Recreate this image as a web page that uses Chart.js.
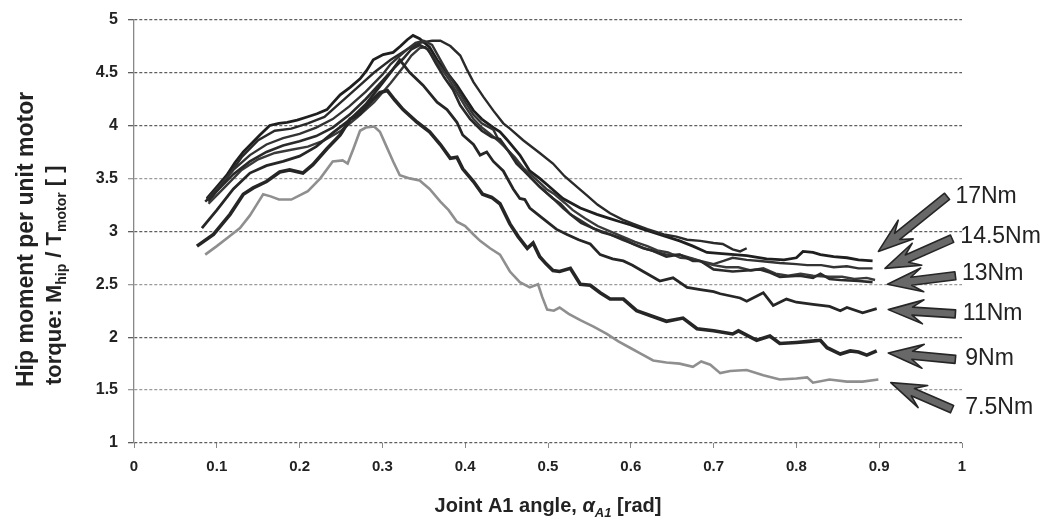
<!DOCTYPE html>
<html>
<head>
<meta charset="utf-8">
<script src="https://cdn.jsdelivr.net/npm/chart.js@4.4.1/dist/chart.umd.min.js"></script>
<style>
  html, body { margin: 0; padding: 0; background: #fff; }
  #wrap { width: 1050px; height: 527px; }
</style>
</head>
<body>
<div id="wrap"><canvas id="hipChart"></canvas></div>
<script>
// axis ticks
const xTicks = [0, 0.1, 0.2, 0.3, 0.4, 0.5, 0.6, 0.7, 0.8, 0.9, 1];
const yTicks = [1, 1.5, 2, 2.5, 3, 3.5, 4, 4.5, 5];

// motor torque labels (arrows on the right)
const torqueLabels = ['17Nm', '14.5Nm', '13Nm', '11Nm', '9Nm', '7.5Nm'];

// curves: [joint angle rad, Mhip/Tmotor]
const t75 = [[0.086,2.78],[0.10,2.86],[0.115,2.95],[0.128,3.03],[0.14,3.15],[0.148,3.25],[0.156,3.35],[0.165,3.33],[0.175,3.30],[0.19,3.30],[0.20,3.34],[0.21,3.38],[0.225,3.50],[0.24,3.66],[0.252,3.67],[0.258,3.64],[0.265,3.78],[0.273,3.95],[0.28,3.98],[0.29,3.99],[0.297,3.94],[0.305,3.80],[0.313,3.66],[0.321,3.53],[0.333,3.50],[0.345,3.48],[0.357,3.40],[0.37,3.28],[0.38,3.20],[0.39,3.09],[0.40,3.05],[0.41,2.97],[0.418,2.91],[0.43,2.84],[0.442,2.78],[0.454,2.62],[0.466,2.52],[0.478,2.47],[0.488,2.50],[0.493,2.38],[0.499,2.26],[0.507,2.25],[0.514,2.28],[0.525,2.22],[0.539,2.16],[0.555,2.10],[0.571,2.03],[0.585,1.96],[0.599,1.90],[0.613,1.84],[0.627,1.78],[0.643,1.76],[0.659,1.75],[0.675,1.72],[0.685,1.77],[0.696,1.74],[0.708,1.66],[0.72,1.68],[0.74,1.69],[0.76,1.64],[0.78,1.60],[0.80,1.61],[0.813,1.62],[0.82,1.57],[0.84,1.60],[0.861,1.58],[0.88,1.58],[0.899,1.60]];

const t9 = [[0.076,2.86],[0.096,2.97],[0.116,3.16],[0.132,3.35],[0.144,3.41],[0.16,3.47],[0.176,3.56],[0.188,3.58],[0.204,3.55],[0.216,3.63],[0.233,3.78],[0.249,3.91],[0.261,4.06],[0.273,4.11],[0.285,4.22],[0.297,4.31],[0.306,4.33],[0.315,4.24],[0.325,4.15],[0.342,4.03],[0.357,3.94],[0.37,3.82],[0.382,3.69],[0.39,3.70],[0.397,3.59],[0.41,3.47],[0.421,3.35],[0.432,3.32],[0.442,3.26],[0.454,3.07],[0.464,2.95],[0.475,2.84],[0.482,2.89],[0.49,2.76],[0.498,2.69],[0.506,2.63],[0.514,2.62],[0.527,2.65],[0.539,2.50],[0.551,2.49],[0.563,2.42],[0.575,2.36],[0.591,2.36],[0.607,2.25],[0.625,2.20],[0.643,2.15],[0.663,2.18],[0.68,2.08],[0.70,2.06],[0.723,2.03],[0.73,2.06],[0.752,1.97],[0.768,2.01],[0.78,1.94],[0.80,1.95],[0.815,1.96],[0.829,1.97],[0.837,1.90],[0.853,1.84],[0.865,1.87],[0.875,1.86],[0.885,1.83],[0.897,1.87]];

const t11 = [[0.082,3.03],[0.10,3.20],[0.12,3.40],[0.14,3.55],[0.16,3.62],[0.18,3.66],[0.20,3.71],[0.22,3.80],[0.24,3.93],[0.26,4.05],[0.28,4.20],[0.29,4.30],[0.30,4.40],[0.31,4.50],[0.321,4.62],[0.333,4.50],[0.349,4.38],[0.366,4.22],[0.378,4.15],[0.39,4.03],[0.397,3.91],[0.41,3.82],[0.418,3.72],[0.426,3.75],[0.434,3.66],[0.446,3.57],[0.458,3.40],[0.466,3.31],[0.472,3.30],[0.478,3.22],[0.494,3.12],[0.51,3.02],[0.523,2.97],[0.537,2.92],[0.551,2.88],[0.563,2.78],[0.578,2.74],[0.591,2.72],[0.602,2.68],[0.615,2.62],[0.635,2.53],[0.651,2.56],[0.668,2.47],[0.684,2.45],[0.70,2.43],[0.708,2.41],[0.732,2.37],[0.74,2.34],[0.76,2.42],[0.772,2.30],[0.788,2.36],[0.80,2.33],[0.82,2.31],[0.84,2.29],[0.853,2.25],[0.861,2.28],[0.88,2.23],[0.897,2.27]];

const t13a = [[0.086,3.28],[0.10,3.38],[0.12,3.54],[0.14,3.66],[0.16,3.75],[0.18,3.81],[0.20,3.85],[0.22,3.90],[0.24,3.98],[0.26,4.10],[0.28,4.25],[0.30,4.42],[0.315,4.55],[0.325,4.63],[0.335,4.72],[0.345,4.76],[0.355,4.72],[0.365,4.58],[0.375,4.45],[0.385,4.34],[0.394,4.19],[0.406,4.06],[0.42,3.95],[0.432,3.89],[0.442,3.87],[0.452,3.76],[0.462,3.64],[0.475,3.54],[0.49,3.42],[0.506,3.31],[0.515,3.26],[0.527,3.16],[0.54,3.08],[0.554,3.03],[0.565,2.99],[0.575,2.97],[0.59,2.93],[0.603,2.88],[0.615,2.84],[0.625,2.82],[0.643,2.76],[0.659,2.78],[0.675,2.72],[0.684,2.72],[0.70,2.64],[0.712,2.63],[0.723,2.62],[0.74,2.63],[0.756,2.64],[0.768,2.61],[0.78,2.57],[0.804,2.58],[0.82,2.56],[0.829,2.60],[0.84,2.55],[0.853,2.54],[0.875,2.53],[0.892,2.52]];

const t13b = [[0.09,3.26],[0.11,3.42],[0.13,3.58],[0.15,3.68],[0.17,3.74],[0.19,3.77],[0.21,3.80],[0.23,3.86],[0.25,3.95],[0.27,4.08],[0.29,4.22],[0.31,4.40],[0.325,4.55],[0.335,4.66],[0.345,4.73],[0.352,4.74],[0.36,4.66],[0.37,4.55],[0.38,4.44],[0.39,4.31],[0.40,4.18],[0.41,4.06],[0.42,3.98],[0.43,3.92],[0.442,3.84],[0.45,3.78],[0.46,3.70],[0.47,3.60],[0.48,3.53],[0.49,3.46],[0.498,3.40],[0.508,3.35],[0.52,3.27],[0.53,3.20],[0.545,3.12],[0.56,3.05],[0.575,3.00],[0.59,2.95],[0.605,2.90],[0.62,2.86],[0.632,2.82],[0.645,2.80],[0.66,2.75],[0.675,2.74],[0.69,2.70],[0.70,2.68],[0.715,2.66],[0.73,2.66],[0.745,2.63],[0.76,2.65],[0.775,2.60],[0.79,2.58],[0.805,2.60],[0.82,2.58],[0.84,2.57],[0.855,2.57],[0.87,2.55],[0.885,2.56],[0.895,2.54]];

const t145 = [[0.088,3.30],[0.10,3.40],[0.12,3.58],[0.14,3.72],[0.16,3.82],[0.18,3.88],[0.20,3.92],[0.22,3.98],[0.24,4.06],[0.26,4.18],[0.28,4.32],[0.30,4.48],[0.31,4.58],[0.32,4.65],[0.33,4.72],[0.34,4.78],[0.35,4.80],[0.36,4.76],[0.37,4.62],[0.38,4.48],[0.39,4.35],[0.40,4.22],[0.41,4.10],[0.42,4.02],[0.434,3.96],[0.44,3.87],[0.454,3.74],[0.466,3.62],[0.475,3.54],[0.49,3.42],[0.506,3.31],[0.518,3.22],[0.527,3.16],[0.54,3.10],[0.554,3.03],[0.565,3.00],[0.575,2.97],[0.59,2.92],[0.603,2.88],[0.62,2.83],[0.643,2.78],[0.659,2.78],[0.684,2.72],[0.70,2.69],[0.712,2.72],[0.723,2.75],[0.74,2.73],[0.756,2.72],[0.78,2.70],[0.80,2.69],[0.813,2.68],[0.83,2.68],[0.845,2.66],[0.861,2.67],[0.875,2.65],[0.892,2.65]];

const t17a = [[0.088,3.31],[0.10,3.42],[0.112,3.53],[0.122,3.65],[0.132,3.75],[0.142,3.83],[0.152,3.91],[0.164,4.00],[0.175,4.02],[0.185,4.03],[0.197,4.05],[0.209,4.08],[0.221,4.11],[0.233,4.15],[0.241,4.22],[0.249,4.29],[0.261,4.36],[0.273,4.44],[0.281,4.52],[0.289,4.62],[0.301,4.67],[0.313,4.69],[0.322,4.75],[0.33,4.81],[0.337,4.85],[0.345,4.82],[0.357,4.74],[0.366,4.62],[0.378,4.50],[0.39,4.38],[0.40,4.26],[0.41,4.14],[0.42,4.06],[0.434,3.98],[0.442,3.94],[0.45,3.87],[0.466,3.72],[0.478,3.57],[0.49,3.50],[0.499,3.44],[0.518,3.31],[0.539,3.22],[0.559,3.16],[0.575,3.12],[0.587,3.09],[0.60,3.06],[0.611,3.03],[0.627,2.99],[0.643,2.95],[0.659,2.91],[0.675,2.86],[0.692,2.80],[0.71,2.79],[0.74,2.77],[0.764,2.74],[0.785,2.73],[0.80,2.75],[0.808,2.81],[0.82,2.80],[0.829,2.78],[0.845,2.76],[0.861,2.75],[0.875,2.73],[0.892,2.72]];

const t17b = [[0.09,3.28],[0.11,3.48],[0.13,3.70],[0.15,3.86],[0.17,3.95],[0.19,3.97],[0.21,4.02],[0.23,4.08],[0.25,4.22],[0.27,4.36],[0.29,4.50],[0.31,4.62],[0.33,4.72],[0.345,4.78],[0.36,4.80],[0.37,4.80],[0.382,4.75],[0.394,4.66],[0.402,4.53],[0.41,4.41],[0.422,4.27],[0.434,4.14],[0.446,4.02],[0.454,3.97],[0.47,3.86],[0.49,3.74],[0.506,3.64],[0.52,3.52],[0.535,3.42],[0.547,3.34],[0.56,3.25],[0.575,3.17],[0.59,3.11],[0.603,3.07],[0.62,3.02],[0.64,2.97],[0.655,2.95],[0.668,2.92],[0.684,2.91],[0.70,2.89],[0.711,2.88],[0.723,2.83],[0.732,2.81],[0.74,2.84]];

const toXY = arr => arr.map(p => ({ x: p[0], y: p[1] }));

function line(points, color, width) {
  return {
    data: toXY(points),
    borderColor: color,
    borderWidth: width,
    pointRadius: 0,
    tension: 0,
    fill: false
  };
}

const FONT = "'Liberation Sans', Arial, sans-serif";
const fmt = v => String(Math.round(v * 10) / 10);

// right-hand arrows, tail -> tip in data units, plus label anchor
const arrows = [
  { tail: [0.982, 3.33], tip: [0.899, 2.81], label: [0.992, 3.33] },
  { tail: [0.988, 2.93], tip: [0.907, 2.65], label: [0.998, 2.95] },
  { tail: [0.992, 2.58], tip: [0.910, 2.50], label: [1.000, 2.60] },
  { tail: [0.992, 2.22], tip: [0.911, 2.26], label: [1.001, 2.22] },
  { tail: [0.992, 1.79], tip: [0.911, 1.85], label: [1.004, 1.80] },
  { tail: [0.988, 1.32], tip: [0.914, 1.57], label: [1.004, 1.33] }
];

function drawArrow(ctx, x1, y1, x2, y2) {
  const ang = Math.atan2(y2 - y1, x2 - x1);
  const len = Math.hypot(x2 - x1, y2 - y1);
  const hl = 35, hw = 12, sw = 4, notch = 24;
  ctx.save();
  ctx.translate(x2, y2);
  ctx.rotate(ang);
  ctx.beginPath();
  ctx.moveTo(0, 0);
  ctx.lineTo(-hl, -hw);
  ctx.lineTo(-notch, -sw);
  ctx.lineTo(-len, -sw);
  ctx.lineTo(-len, sw);
  ctx.lineTo(-notch, sw);
  ctx.lineTo(-hl, hw);
  ctx.closePath();
  ctx.fillStyle = '#686868';
  ctx.strokeStyle = '#262626';
  ctx.lineWidth = 1.6;
  ctx.lineJoin = 'round';
  ctx.fill();
  ctx.stroke();
  ctx.restore();
}

// draw a row of text pieces; each piece: [text, size, italic, dy]
function richText(ctx, pieces, x, y, align) {
  const widths = pieces.map(p => {
    ctx.font = (p[2] ? 'italic ' : '') + 'bold ' + p[1] + 'px ' + FONT;
    return ctx.measureText(p[0]).width;
  });
  const total = widths.reduce((a, b) => a + b, 0);
  let cx = align === 'center' ? x - total / 2 : x;
  pieces.forEach((p, i) => {
    ctx.font = (p[2] ? 'italic ' : '') + 'bold ' + p[1] + 'px ' + FONT;
    ctx.fillText(p[0], cx, y + p[3]);
    cx += widths[i];
  });
}

const annotations = {
  id: 'annotations',
  afterDatasetsDraw(chart) {
    const { ctx, scales: { x, y } } = chart;
    arrows.forEach((a, i) => {
      drawArrow(ctx,
        x.getPixelForValue(a.tail[0]), y.getPixelForValue(a.tail[1]),
        x.getPixelForValue(a.tip[0]), y.getPixelForValue(a.tip[1]));
      ctx.save();
      ctx.font = '23px ' + FONT;
      ctx.fillStyle = '#222';
      ctx.textBaseline = 'middle';
      ctx.textAlign = 'left';
      ctx.fillText(torqueLabels[i], x.getPixelForValue(a.label[0]), y.getPixelForValue(a.label[1]));
      ctx.restore();
    });
  },
  afterDraw(chart) {
    const { ctx, chartArea } = chart;
    ctx.save();
    ctx.fillStyle = '#222';
    ctx.textBaseline = 'alphabetic';
    ctx.textAlign = 'left';
    // x title
    richText(ctx, [
      ['Joint A1 angle, ', 20, false, 0],
      ['\u03b1', 20, true, 0],
      ['A1', 13, true, 5],
      [' [rad]', 20, false, 0]
    ], (chartArea.left + chartArea.right) / 2, 512, 'center');
    // y title (two lines, rotated)
    ctx.translate(0, 387);
    ctx.rotate(-Math.PI / 2);
    richText(ctx, [['Hip moment per unit motor', 23, false, 0]], 0, 33, 'left');
    richText(ctx, [
      ['torque: M', 22, false, 0],
      ['hip', 14, false, 5],
      [' / T', 22, false, 0],
      ['motor', 14, false, 5],
      [' [ ]', 22, false, 0]
    ], 2, 61, 'left');
    ctx.restore();
  }
};

const ctx = document.getElementById('hipChart').getContext('2d');
const hipChart = new Chart(ctx, {
  type: 'line',
  data: {
    datasets: [
      line(t75, '#8f8f8f', 2.6),
      line(t9, '#262626', 3.6),
      line(t11, '#262626', 2.8),
      line(t13a, '#2a2a2a', 2.6),
      line(t13b, '#3a3a3a', 2.4),
      line(t145, '#333333', 2.4),
      line(t17b, '#2a2a2a', 2.4),
      line(t17a, '#1f1f1f', 2.8)
    ]
  },
  options: {
    responsive: true,
    maintainAspectRatio: false,
    animation: false,
    layout: { padding: { top: 17, right: 88, left: 0, bottom: 0 } },
    plugins: {
      legend: { display: false },
      tooltip: { enabled: false },
      title: { display: false }
    },
    scales: {
      x: {
        type: 'linear',
        min: 0,
        max: 1,
        afterFit: s => { s.height = 84; },
        afterBuildTicks: s => { s.ticks = xTicks.map(v => ({ value: v })); },
        ticks: {
          color: '#222',
          font: { family: FONT, size: 15, weight: 'bold' },
          padding: 10,
          maxRotation: 0,
          callback: v => fmt(v)
        },
        grid: { display: true, drawOnChartArea: false, tickLength: 5, color: '#888' },
        border: { display: false }
      },
      y: {
        min: 1,
        max: 5,
        afterFit: s => { s.width = 134; },
        afterBuildTicks: s => { s.ticks = yTicks.map(v => ({ value: v })); },
        ticks: {
          color: '#222',
          font: { family: FONT, size: 16, weight: 'bold' },
          padding: 10,
          callback: v => fmt(v)
        },
        grid: {
          tickLength: 6,
          lineWidth: 1.3,
          color: c => (c.tick && [1.5, 2.5, 3.5].includes(c.tick.value)) ? '#9a9a9a' : '#5e5e5e'
        },
        border: { display: true, color: '#888', width: 1.3, dash: [3, 2] }
      }
    }
  },
  plugins: [annotations]
});
</script>
</body>
</html>
